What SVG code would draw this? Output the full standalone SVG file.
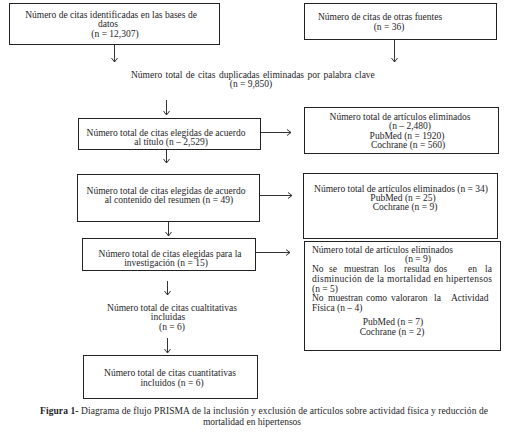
<svg xmlns="http://www.w3.org/2000/svg" width="506" height="434" viewBox="0 0 506 434">
<style>
text{font-family:"Liberation Serif","Times New Roman",serif;font-size:9.5px;fill:#1e1e28}
.c{text-anchor:middle}
.box{fill:#fff;stroke:#222;stroke-width:1}
.ln{stroke:#333;stroke-width:1;fill:none}
.cap{font-size:9.5px}
.b{font-weight:bold}
</style>
<defs>
<marker id="ah" markerUnits="userSpaceOnUse" markerWidth="8" markerHeight="8" refX="5" refY="4" orient="auto">
<path d="M1,1 L5,4 L1,7" fill="none" stroke="#333" stroke-width="1"/>
</marker>
</defs>
<rect width="506" height="434" fill="#fff"/>
<g id="connectors">
<line class="ln" x1="114.5" y1="44" x2="114.5" y2="62" marker-end="url(#ah)"/>
<line class="ln" x1="394.5" y1="39" x2="394.5" y2="62" marker-end="url(#ah)"/>
<line class="ln" x1="166.5" y1="100" x2="166.5" y2="115" marker-end="url(#ah)"/>
<line class="ln" x1="260" y1="132.5" x2="291" y2="132.5" marker-end="url(#ah)"/>
<line class="ln" x1="166.5" y1="149" x2="166.5" y2="163" marker-end="url(#ah)"/>
<line class="ln" x1="259" y1="195.5" x2="292" y2="195.5" marker-end="url(#ah)"/>
<line class="ln" x1="168.5" y1="222" x2="168.5" y2="236" marker-end="url(#ah)"/>
<line class="ln" x1="255" y1="252.5" x2="290" y2="252.5" marker-end="url(#ah)"/>
<line class="ln" x1="167.5" y1="281" x2="167.5" y2="295" marker-end="url(#ah)"/>
<line class="ln" x1="167.5" y1="338" x2="167.5" y2="353" marker-end="url(#ah)"/>
</g>
<g id="n1">
<rect class="box" x="9.5" y="3.5" width="210" height="41"/>
<text class="c" x="111" y="18">Número de citas identificadas en las bases de</text>
<text class="c" x="108" y="27">datos</text>
<text class="c" x="115" y="37">(n = 12,307)</text>
</g>
<g id="n2">
<rect class="box" x="304.5" y="3.5" width="192" height="36"/>
<text class="c" x="380" y="20">Número de citas de otras fuentes</text>
<text class="c" x="389" y="30">(n = 36)</text>
</g>
<g id="n_dup">
<text x="131" y="78" word-spacing="1">Número total de citas duplicadas eliminadas por palabra clave</text>
<text class="c" x="251" y="87">(n = 9,850)</text>
</g>
<g id="n3">
<rect class="box" x="78.5" y="118.5" width="182" height="31"/>
<text class="c" x="166" y="136">Número total de citas elegidas de acuerdo</text>
<text class="c" x="171" y="145">al título (n – 2,529)</text>
</g>
<g id="n4">
<rect class="box" x="304.5" y="107.5" width="194" height="46"/>
<text class="c" x="400" y="120">Número total de artículos eliminados</text>
<text class="c" x="410" y="129">(n – 2,480)</text>
<text class="c" x="407" y="138.5">PubMed  (n = 1920)</text>
<text class="c" x="408" y="148">Cochrane (n = 560)</text>
</g>
<g id="n5">
<rect class="box" x="77.5" y="174.5" width="182" height="47"/>
<text class="c" x="166" y="194">Número total de citas elegidas de acuerdo</text>
<text class="c" x="169" y="203">al contenido del resumen (n = 49)</text>
</g>
<g id="n6">
<rect class="box" x="303.5" y="173.5" width="194" height="65"/>
<text class="c" x="401" y="192">Número total de artículos eliminados (n = 34)</text>
<text class="c" x="403" y="201">PubMed  (n = 25)</text>
<text class="c" x="405" y="210">Cochrane (n = 9)</text>
</g>
<g id="n7">
<rect class="box" x="82.5" y="238.5" width="173" height="32"/>
<text class="c" x="170" y="257">Número total de citas elegidas para la</text>
<text class="c" x="166" y="266">investigación  (n = 15)</text>
</g>
<g id="n8">
<rect class="box" x="304.5" y="241.5" width="196" height="109"/>
<text x="312" y="253">Número total de artículos eliminados</text>
<text class="c" x="418" y="262">(n = 9)</text>
<text y="272"><tspan x="312">No</tspan><tspan x="329">se</tspan><tspan x="344">muestran</tspan><tspan x="384">los</tspan><tspan x="404">resulta</tspan><tspan x="434">dos</tspan><tspan x="468">en</tspan><tspan x="485">la</tspan></text>
<text x="312" y="282" textLength="180" lengthAdjust="spacing">disminución de la mortalidad en hipertensos</text>
<text x="312" y="292">(n = 5)</text>
<text y="301"><tspan x="312">No</tspan><tspan x="328">muestran</tspan><tspan x="366">como</tspan><tspan x="391">valoraron</tspan><tspan x="434">la</tspan><tspan x="451">Actividad</tspan></text>
<text x="312" y="311">Física (n – 4)</text>
<text class="c" x="393" y="325">PubMed (n = 7)</text>
<text class="c" x="392" y="335">Cochrane (n = 2)</text>
</g>
<g id="n_qual">
<text class="c" x="172" y="311">Número total de citas cualtitativas</text>
<text class="c" x="168" y="320">incluidas</text>
<text class="c" x="172" y="330">(n = 6)</text>
</g>
<g id="n9">
<rect class="box" x="83.5" y="355.5" width="174" height="43"/>
<text class="c" x="170" y="376">Número total de citas cuantitativas</text>
<text class="c" x="172" y="386">incluidos (n = 6)</text>
</g>
<g id="caption">
<text class="cap" x="40" y="414" textLength="448" lengthAdjust="spacing"><tspan class="b">Figura 1-</tspan> Diagrama de flujo PRISMA de la inclusión y exclusión de artículos sobre actividad física y reducción de</text>
<text class="cap c" x="252" y="425">mortalidad en hipertensos</text>
</g>
</svg>
